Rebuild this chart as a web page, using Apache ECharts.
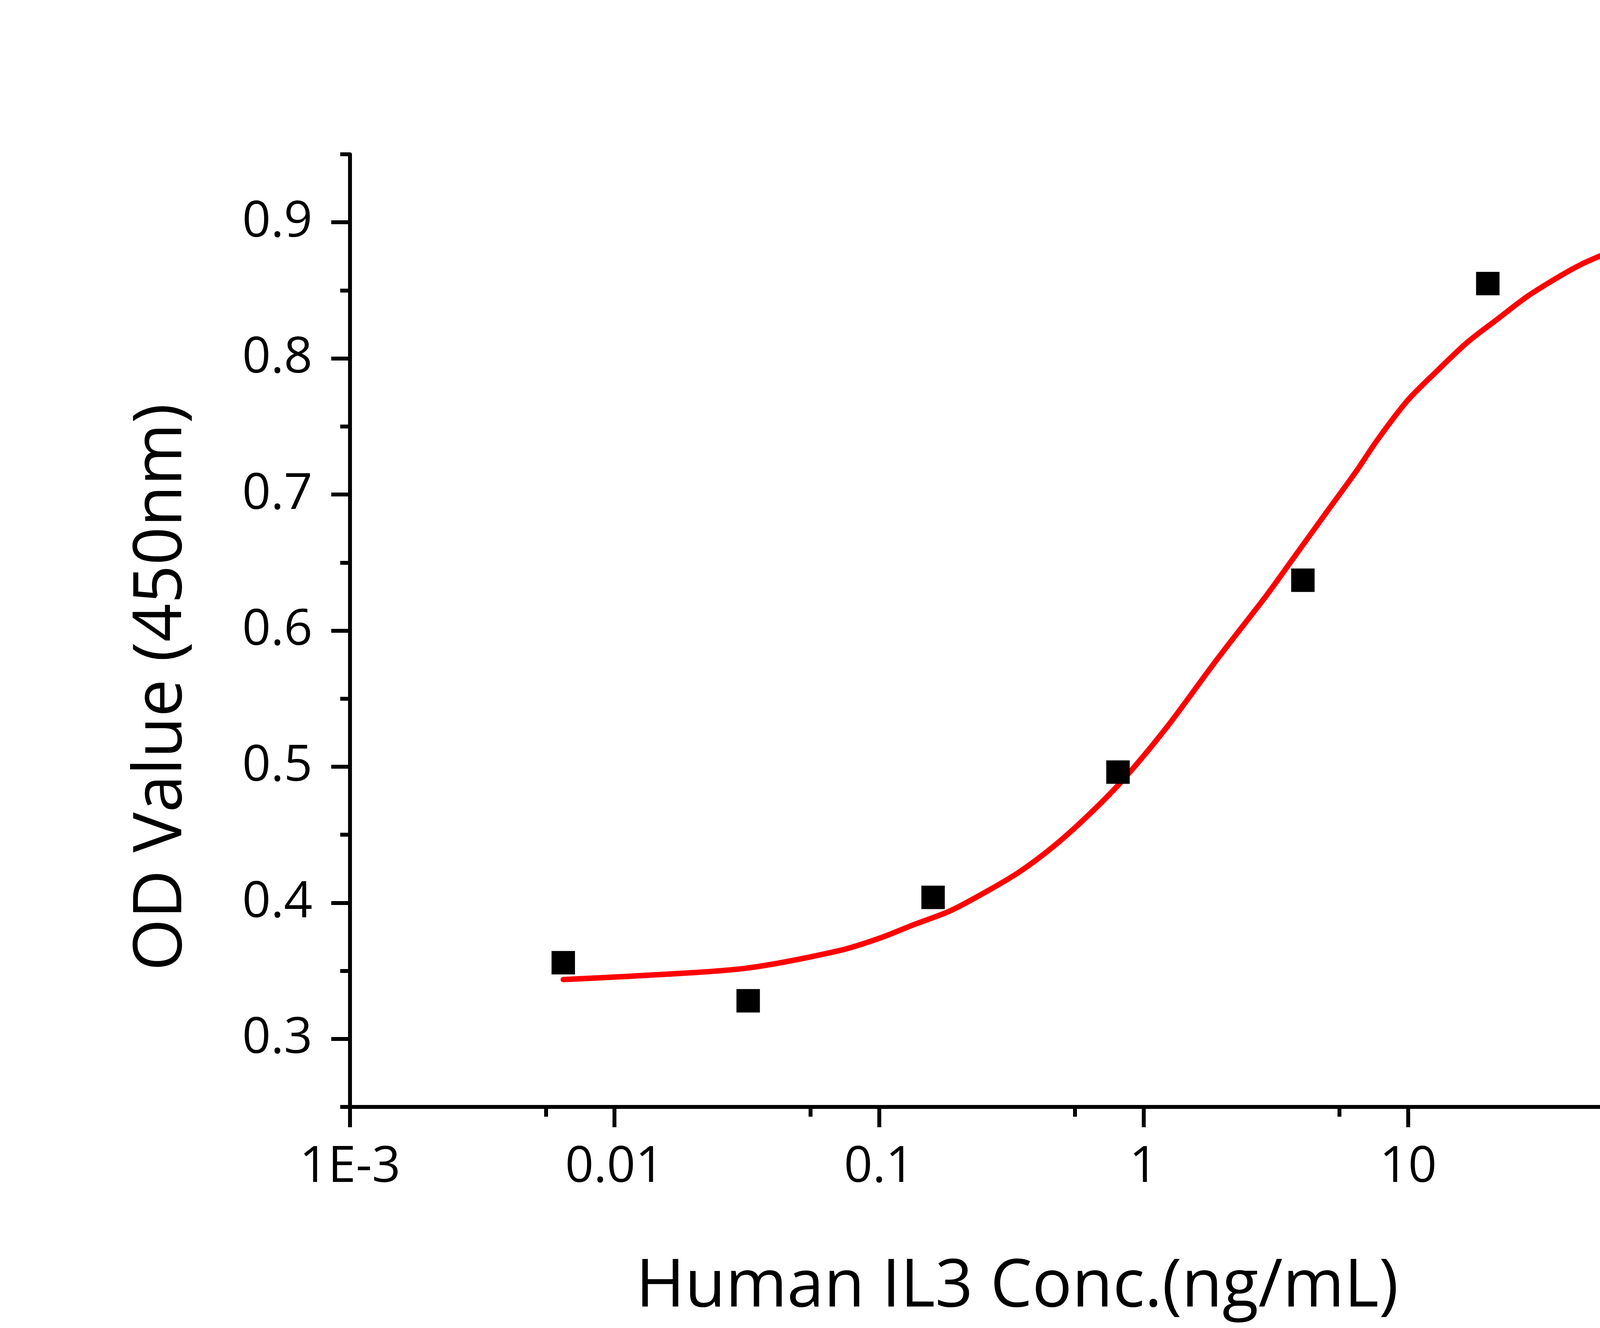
<!DOCTYPE html>
<html>
<head>
<meta charset="utf-8">
<title>Human IL3 ELISA</title>
<script src="https://cdn.jsdelivr.net/npm/echarts@6/dist/echarts.min.js"></script>
<style>
  html, body { margin: 0; padding: 0; background: #fff; }
  #main { width: 5000px; height: 3400px; }
</style>
</head>
<body>
<div id="main"></div>
<script>
// measured points (ng/mL, OD450)
const concs = [0.0064, 0.032, 0.16, 0.8, 4, 20, 100];
const odValues = [0.356, 0.328, 0.404, 0.496, 0.637, 0.855, 0.881];

// fitted curve
const fitX = [0.0064, 0.014, 0.0316, 0.0712, 0.1005, 0.136, 0.1845, 0.2496, 0.338, 0.457,
  0.621, 0.84, 1.22, 1.88, 2.91, 3.62, 5.0, 6.31, 7.69,
  9.96, 12.94, 16.76, 21.8, 28.2, 36.6, 45, 55, 75.9, 100];
const fitY = [0.3436, 0.347, 0.352, 0.365, 0.374, 0.3841, 0.3938, 0.4073, 0.4225, 0.4415,
  0.4647, 0.4908, 0.5287, 0.578, 0.6257, 0.6512, 0.689, 0.716, 0.7407,
  0.7692, 0.7913, 0.8119, 0.829, 0.8455, 0.8593, 0.869, 0.8765, 0.888, 0.8971];

const xMajor = [0.001, 0.01, 0.1, 1, 10, 100];
const xMinor = [0.0055, 0.055, 0.55, 5.5, 55];
const yMajor = [0.3, 0.4, 0.5, 0.6, 0.7, 0.8, 0.9];
const yMinor = [0.25, 0.35, 0.45, 0.55, 0.65, 0.75, 0.85, 0.95];

const FONT = 'Open Sans';
const chart = echarts.init(document.getElementById('main'), null, { renderer: 'canvas' });

const axisLine = { show: true, lineStyle: { color: '#000', width: 10 } };

const option = {
  backgroundColor: '#fff',
  animation: false,
  grid: { left: 896, right: 688, top: 395, bottom: 566, containLabel: false, outerBoundsMode: 'none' },
  xAxis: [
    {
      type: 'log', logBase: 10, min: 0.001, max: 110.7,
      axisLine: axisLine,
      axisTick: { show: true, customValues: xMajor, length: 52, lineStyle: { color: '#000', width: 10 } },
      axisLabel: {
        customValues: xMajor, margin: 92, color: '#000', fontFamily: FONT, fontSize: 128,
        formatter: v => (v === 0.001 ? '1E-3' : String(v))
      },
      splitLine: { show: false },
      name: 'Human IL3 Conc.(ng/mL)', nameLocation: 'middle', nameGap: 378, nameMoveOverlap: false,
      nameTextStyle: { color: '#000', fontFamily: FONT, fontSize: 170 }
    },
    {
      type: 'log', logBase: 10, min: 0.001, max: 110.7, position: 'bottom',
      axisLine: { show: false },
      axisTick: { show: true, customValues: xMinor, length: 25, lineStyle: { color: '#000', width: 10 } },
      axisLabel: { show: false },
      splitLine: { show: false }
    }
  ],
  yAxis: [
    {
      type: 'value', min: 0.25, max: 0.95,
      axisLine: axisLine,
      axisTick: { show: true, customValues: yMajor, length: 48, lineStyle: { color: '#000', width: 10 } },
      axisLabel: {
        customValues: yMajor, margin: 96, color: '#000', fontFamily: FONT, fontSize: 128,
        padding: [0, 0, 28, 0],
        formatter: v => v.toFixed(1)
      },
      splitLine: { show: false },
      name: 'OD Value (450nm)', nameLocation: 'middle', nameGap: 395, nameMoveOverlap: false,
      nameTextStyle: { color: '#000', fontFamily: FONT, fontSize: 172, padding: [0, 290, 0, 0] }
    },
    {
      type: 'value', min: 0.25, max: 0.95, position: 'left',
      axisLine: { show: false },
      axisTick: { show: true, customValues: yMinor, length: 25, lineStyle: { color: '#000', width: 10 } },
      axisLabel: { show: false },
      splitLine: { show: false }
    }
  ],
  series: [
    {
      name: 'fit', type: 'line',
      data: fitX.map((x, i) => [x, fitY[i]]),
      showSymbol: false, smooth: 0.3,
      lineStyle: { color: '#ff0000', width: 14, cap: 'round' },
      z: 2
    },
    {
      name: 'OD', type: 'scatter',
      data: concs.map((x, i) => [x, odValues[i]]),
      symbol: 'rect', symbolSize: 60,
      itemStyle: { color: '#000', opacity: 1 },
      z: 3
    }
  ]
};

chart.setOption(option);
</script>
</body>
</html>
